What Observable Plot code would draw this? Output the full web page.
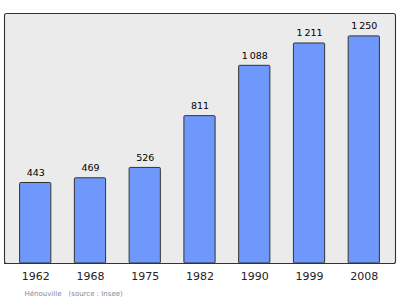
<!DOCTYPE html>
<html><head><meta charset="utf-8">
<script src="https://cdn.jsdelivr.net/npm/d3@7"></script>
<script src="https://cdn.jsdelivr.net/npm/@observablehq/plot@0.6"></script>
<style>body{margin:0;background:#fff;font-family:"DejaVu Sans",sans-serif}</style>
</head><body>
<div id="chart"></div>
<script>
const years = ["1962","1968","1975","1982","1990","1999","2008"];
const population = [443, 469, 526, 811, 1088, 1211, 1250];
const commune = "Hénouville";
const source = "(source : Insee)";

const data = years.map((y, i) => ({year: y, pop: population[i]}));
const fmt = v => d3.format(",")(v).replace(/,/g, "\u2009");

const chart = Plot.plot({
  width: 400, height: 299,
  marginTop: 13, marginBottom: 36, marginLeft: 4, marginRight: 5,
  style: {fontFamily: "DejaVu Sans, sans-serif", background: "#fff"},
  x: {domain: years, paddingInner: 0.43, paddingOuter: 0.285, align: 0.5, round: false, label: null, tickSize: 0, tickPadding: 9},
  y: {domain: [0, 1376], axis: null},
  marks: [
    Plot.frame({fill: "#ebebeb", stroke: "#333", strokeWidth: 1.1, rx: 2}),
    Plot.barY(data, {x: "year", y: "pop", fill: "#6f98fc", stroke: "#333", strokeWidth: 1, rx: 1}),
    Plot.text(data, {x: "year", y: "pop", text: d => fmt(d.pop), dy: -7, lineAnchor: "bottom", fontSize: 9.5, fill: "#000"}),
    Plot.axisX({tickSize: 0, tickPadding: 9, fontSize: 11, fill: "#222"}),
    Plot.ruleY([0], {stroke: "#333", strokeWidth: 1.1}),
    Plot.text([commune], {frameAnchor: "bottom-left", dx: 20, dy: 32, fontSize: 7, fill: "#888", textAnchor: "start"}),
    Plot.text([source], {frameAnchor: "bottom-left", dx: 64, dy: 32, fontSize: 7, fill: "#888", textAnchor: "start"})
  ]
});
document.getElementById("chart").appendChild(chart);
</script>
</body></html>
